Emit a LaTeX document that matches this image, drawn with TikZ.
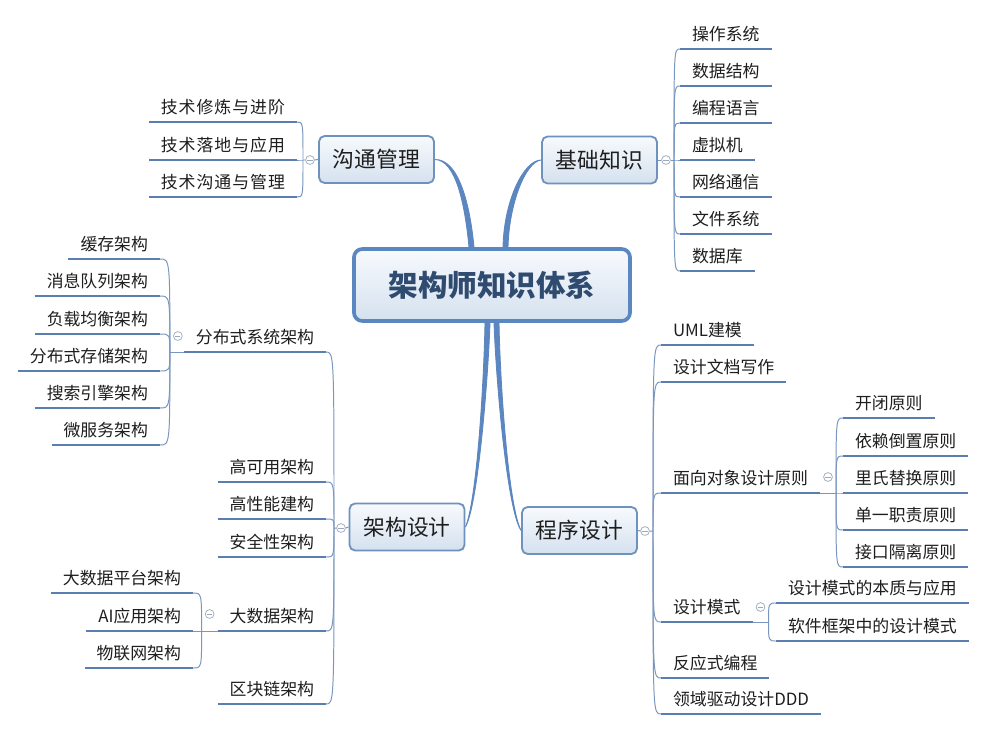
\documentclass[tikz,border=0pt]{standalone}
\usepackage{fontspec}
\setmainfont{Noto Sans CJK SC}
\newfontfamily\widecjk[LetterSpace=6]{Noto Sans CJK SC}
\usetikzlibrary{calc}
\definecolor{rim}{HTML}{5A87C0}
\definecolor{boxrim}{HTML}{6E92BD}
\definecolor{topfill}{HTML}{F7FAFD}
\definecolor{botfill}{HTML}{D5E1EF}
\definecolor{title}{HTML}{2F4B70}
\definecolor{ink}{HTML}{1E1E1E}
\definecolor{barcol}{HTML}{5B7EB0}
\definecolor{wirecol}{HTML}{7896BE}
\definecolor{stemcol}{HTML}{5B86BF}
\definecolor{knobcol}{HTML}{9AA9BB}
\tikzset{
  core/.style={draw=rim, line width=2.6pt, rounded corners=6pt, top color=topfill, bottom color=botfill,
    minimum width=6.9cm, minimum height=1.8cm, text=title, font=\fontsize{21}{25}\selectfont\bfseries},
  topic/.style={draw=boxrim, line width=1.3pt, rounded corners=4pt, top color=topfill, bottom color=botfill,
    minimum width=2.875cm, minimum height=1.175cm, text=ink, font=\fontsize{15.5}{18}\selectfont},
  leaf/.style={inner xsep=0.3cm, inner ysep=0pt, outer sep=0pt, text height=9pt, text depth=6.2pt,
    text=ink, font=\fontsize{12}{14}\selectfont,
    append after command={(\tikzlastnode.south west) edge[uline] (\tikzlastnode.south east)}},
  uline/.style={draw=barcol, line width=2.1pt},
  wire/.style={draw=wirecol, line width=0.7pt},
  stem/.style={fill=stemcol, draw=stemcol, line width=0.6pt},
  knob/.style={circle, draw=knobcol, fill=white, line width=0.5pt, inner sep=0pt, minimum size=0.22cm,
    path picture={\draw[draw=knobcol, line width=0.5pt] ([xshift=1.3pt]path picture bounding box.west)
      -- ([xshift=-1.3pt]path picture bounding box.east);}}
}
\begin{document}
\begin{tikzpicture}[x=0.025cm, y=-0.025cm]
\useasboundingbox (0,0) rectangle (987,732);
\fill[white] (0,0) rectangle (987,732);

% centre and main topics
\node[core] (root) at (492,285) {架构师知识体系};
\node[topic] (comm) at (376.5,159.5) {沟通管理};
\node[topic] (base) at (599.5,160) {基础知识};
\node[topic] (arch) at (407,527) {架构设计};
\node[topic] (prog) at (579.5,530.5) {程序设计};

% tapered branches
\draw[stem] (comm.east) .. controls (456,160) and (465,205) .. ($(root.north)+(-23,0)$)
  -- ($(root.north)+(-18,0)$) .. controls (470,205) and (459,159) .. (comm.east) -- cycle;
\draw[stem] (base.west) .. controls (524,160) and (504,200) .. ($(root.north)+(11,0)$)
  -- ($(root.north)+(16,0)$) .. controls (509,205) and (525,162) .. (base.west) -- cycle;
\draw[stem] (arch.east) .. controls (477,500) and (484,380) .. ($(root.south)+(-7,0)$)
  -- ($(root.south)+(-2,0)$) .. controls (488,380) and (478,505) .. (arch.east) -- cycle;
\draw[stem] (prog.west) .. controls (508,505) and (500,380) .. ($(root.south)+(7,0)$)
  -- ($(root.south)+(2,0)$) .. controls (496,380) and (507,510) .. (prog.west) -- cycle;

% knobs and junctions
\node[knob] (kc) at (310,160) {};
\node[knob] (kb) at (666,160) {};
\node[knob] (ka) at (341,528) {};
\node[knob] (kp) at (645,531) {};
\coordinate (jc) at (303,160);
\coordinate (jb) at (674,160);
\coordinate (ja) at (334,528);
\coordinate (jp) at (653,531);
\draw[wire] (comm.west) -- (kc.east) (kc.west) -- (jc);
\draw[wire] (base.east) -- (kb.west) (kb.east) -- (jb);
\draw[wire] (arch.west) -- (ka.east) (ka.west) -- (ja);
\draw[wire] (prog.east) -- (kp.west) (kp.east) -- (jp);

% 沟通管理
\foreach \y/\t [count=\i] in {122/技术修炼与进阶, 160/技术落地与应用, 197/技术沟通与管理}
  \node[leaf, anchor=south east, font=\widecjk\fontsize{12}{14}\selectfont] (c\i) at (297,\y) {\t};
\foreach \i in {1,...,3}
  \draw[wire] (jc) .. controls (jc |- c\i.south east) .. (c\i.south east);

% 基础知识
\foreach \t [count=\i] in {操作系统, 数据结构, 编程语言, 虚拟机, 网络通信, 文件系统, 数据库}
  \node[leaf, anchor=south west] (b\i) at (680,{49+37*(\i-1)}) {\t};
\foreach \i in {1,...,7}
  \draw[wire] (jb) .. controls (jb |- b\i.south west) .. (b\i.south west);

% 架构设计
\foreach \y/\t [count=\i] in {352/分布式系统架构, 482/高可用架构, 519/高性能建构, 557/安全性架构, 631/大数据架构, 704/区块链架构}
  \node[leaf, anchor=south east] (a\i) at (326,\y) {\t};
\foreach \i in {1,...,6}
  \draw[wire] (ja) .. controls (ja |- a\i.south east) .. (a\i.south east);

% 分布式系统架构
\coordinate (jd) at ($(a1.south west)+(-14,0)$);
\node[knob] (kd) at ($(a1.south west)+(-6,-16)$) {};
\draw[wire] (a1.south west) -- (jd);
\foreach \y/\t [count=\i] in {259/缓存架构, 296/消息队列架构, 334/负载均衡架构, 371/分布式存储架构, 408/搜索引擎架构, 445/微服务架构}
  \node[leaf, anchor=south east] (d\i) at (160,\y) {\t};
\foreach \i in {1,...,6}
  \draw[wire] (jd) .. controls (jd |- d\i.south east) .. (d\i.south east);

% 大数据架构
\coordinate (jg) at ($(a5.south west)+(-16,0)$);
\node[knob] (kg) at ($(a5.south west)+(-8,-17)$) {};
\draw[wire] (a5.south west) -- (jg);
\foreach \y/\t [count=\i] in {593/大数据平台架构, 631/AI应用架构, 668/物联网架构}
  \node[leaf, anchor=south east] (g\i) at (193,\y) {\t};
\foreach \i in {1,...,3}
  \draw[wire] (jg) .. controls (jg |- g\i.south east) .. (g\i.south east);

% 程序设计
\foreach \y/\t [count=\i] in {345/UML建模, 382/设计文档写作, 493/面向对象设计原则, 622/设计模式, 678/反应式编程, 714/领域驱动设计DDD}
  \node[leaf, anchor=south west] (p\i) at (661,\y) {\t};
\foreach \i in {1,...,6}
  \draw[wire] (jp) .. controls (jp |- p\i.south west) .. (p\i.south west);

% 面向对象设计原则
\coordinate (jo) at ($(p3.south east)+(16,0)$);
\node[knob] (ko) at ($(p3.south east)+(8,-16)$) {};
\draw[wire] (p3.south east) -- (jo);
\foreach \y/\t [count=\i] in {418/开闭原则, 456/依赖倒置原则, 493/里氏替换原则, 530/单一职责原则, 567/接口隔离原则}
  \node[leaf, anchor=south west] (o\i) at (843,\y) {\t};
\foreach \i in {1,...,5}
  \draw[wire] (jo) .. controls (jo |- o\i.south west) .. (o\i.south west);

% 设计模式
\coordinate (jm) at ($(p4.south east)+(16,0)$);
\node[knob] (km) at ($(p4.south east)+(8,-15)$) {};
\draw[wire] (p4.south east) -- (jm);
\foreach \y/\t [count=\i] in {603/设计模式的本质与应用, 641/软件框架中的设计模式}
  \node[leaf, anchor=south west] (m\i) at (776,\y) {\t};
\foreach \i in {1,2}
  \draw[wire] (jm) .. controls (jm |- m\i.south west) .. (m\i.south west);
\end{tikzpicture}
\end{document}
